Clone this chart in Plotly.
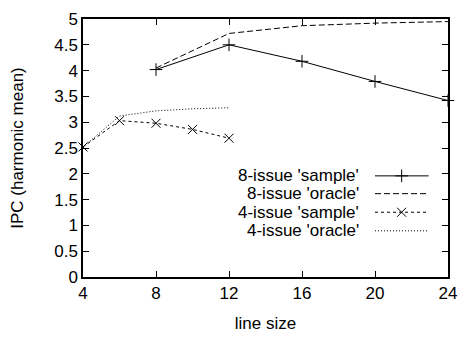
import plotly.graph_objects as go

x8 = [8, 12, 16, 20, 24]
ipc_8_sample = [4.02, 4.50, 4.18, 3.79, 3.42]
ipc_8_oracle = [4.05, 4.72, 4.87, 4.92, 4.95]
x4 = [4, 6, 8, 10, 12]
ipc_4_sample = [2.52, 3.03, 2.98, 2.86, 2.69]
ipc_4_oracle = [2.52, 3.12, 3.22, 3.26, 3.28]
series_names = ["8-issue 'sample'", "8-issue 'oracle'", "4-issue 'sample'", "4-issue 'oracle'"]
x_ticks = [4, 8, 12, 16, 20, 24]
y_ticks = [0, 0.5, 1, 1.5, 2, 2.5, 3, 3.5, 4, 4.5, 5]

FONT = "Liberation Sans, Arial, Helvetica, sans-serif"
FS = 17
styles = [
    dict(dash="solid", symbol="cross-thin"),
    dict(dash="6px,3px", symbol=None),
    dict(dash="3px,3px", symbol="x-thin"),
    dict(dash="1px,2px", symbol=None),
]
data = [(x8, ipc_8_sample), (x8, ipc_8_oracle), (x4, ipc_4_sample), (x4, ipc_4_oracle)]

fig = go.Figure()
for (xs, ys), st in zip(data, styles):
    mode = "lines+markers" if st["symbol"] else "lines"
    kw = {}
    if st["symbol"]:
        kw["marker"] = dict(symbol=st["symbol"], size=9, color="black",
                            line=dict(width=1, color="black"))
    fig.add_trace(go.Scatter(x=xs, y=ys, mode=mode, cliponaxis=False,
                             line=dict(color="black", width=1, dash=st["dash"]),
                             showlegend=False, **kw))

# custom legend (text right-aligned, line sample to its right as in gnuplot)
leg_y = [0.392, 0.323, 0.251, 0.179]
for name, st, ly in zip(series_names, styles, leg_y):
    fig.add_trace(go.Scatter(x=[0.80, 0.947], y=[ly, ly], mode="lines", xaxis="x2", yaxis="y2",
                             line=dict(color="black", width=1, dash=st["dash"]),
                             showlegend=False, hoverinfo="skip"))
    if st["symbol"]:
        fig.add_trace(go.Scatter(x=[0.873], y=[ly], mode="markers", xaxis="x2", yaxis="y2",
                                 marker=dict(symbol=st["symbol"], size=9, color="black",
                                             line=dict(width=1, color="black")),
                                 showlegend=False, hoverinfo="skip"))
    fig.add_annotation(x=0.761, y=ly, xref="x2", yref="y2", text=name, showarrow=False,
                       xanchor="right", yanchor="middle",
                       font=dict(family=FONT, size=FS, color="black"))

axis_common = dict(showgrid=False, zeroline=False, showline=True, linecolor="black",
                   linewidth=1.5, mirror="ticks", ticks="inside", ticklen=6,
                   tickcolor="black", tickwidth=1,
                   tickfont=dict(family=FONT, size=FS, color="black"))
fig.update_layout(
    width=467, height=340,
    margin=dict(l=83, r=10, t=15, b=62),
    paper_bgcolor="white", plot_bgcolor="white",
    xaxis=dict(range=[4, 24], tickvals=x_ticks,
               title=dict(text="line size", font=dict(family=FONT, size=FS, color="black"), standoff=15),
               **axis_common),
    yaxis=dict(range=[0, 5], tickvals=y_ticks,
               title=dict(text="IPC (harmonic mean)", font=dict(family=FONT, size=FS, color="black"), standoff=26),
               **axis_common),
    xaxis2=dict(range=[0, 1], overlaying="x", visible=False),
    yaxis2=dict(range=[0, 1], overlaying="y", visible=False),
)
fig.write_html("out.html")
